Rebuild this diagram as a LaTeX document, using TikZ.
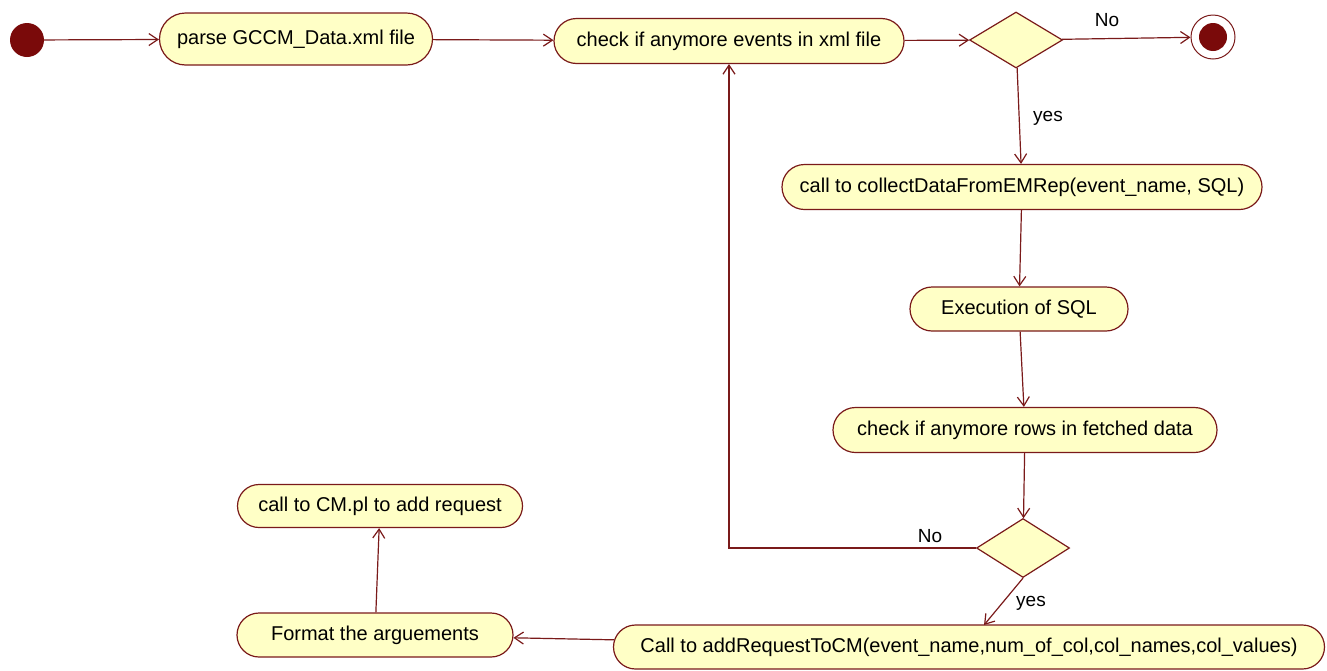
\documentclass[tikz,border=0pt]{standalone}
\usepackage{fontspec}
\setmainfont{Liberation Sans}
\usetikzlibrary{arrows.meta}
\usetikzlibrary{positioning,shapes.misc,shapes.geometric}
\definecolor{umlred}{HTML}{7A1A1A}
\definecolor{umlfill}{HTML}{FFFFC6}
\definecolor{umldot}{HTML}{7A0A0A}
\begin{document}
\begin{tikzpicture}[x=1pt,y=-1pt,
		act/.style={rounded rectangle, draw=umlred, fill=umlfill, line width=1.2pt, inner sep=0pt, font=\fontsize{20}{22}\selectfont},
		dec/.style={diamond, draw=umlred, fill=umlfill, line width=1.2pt, inner sep=0pt, aspect=1.6},
		flow/.style={draw=umlred, line width=1.2pt, -{Straight Barb[length=9pt,width=12pt]}},
		lbl/.style={font=\fontsize{19}{21}\selectfont, inner sep=1pt}]
			\useasboundingbox (0,0) rectangle (1327,670);
			% start and end
			\node[circle, fill=umldot, minimum size=34pt, inner sep=0pt] (start) at (27,40) {};
			\node[circle, draw=umlred, fill=white, line width=1pt, minimum size=44pt, inner sep=0pt] (stop) at (1213,37) {};
			\node[circle, fill=umldot, minimum size=28pt, inner sep=0pt] at (stop) {};
			% activities
			\node[act, minimum width=273pt, minimum height=52pt] (parse) at (296,39) {parse GCCM\_Data.xml file};
			\node[act, minimum width=350pt, minimum height=45pt] (chkEv) at (729,41) {check if anymore events in xml file};
			\node[act, minimum width=480pt, minimum height=45pt] (collect) at (1022,187) {call to collectDataFromEMRep(event\_name, SQL)};
			\node[act, minimum width=218pt, minimum height=44pt] (exec) at (1019,309) {Execution of SQL};
			\node[act, minimum width=384pt, minimum height=45pt] (chkRow) at (1025,430) {check if anymore rows in fetched data};
			\node[act, minimum width=711pt, minimum height=44pt] (addReq) at (969,647) {Call to addRequestToCM(event\_name,num\_of\_col,col\_names,col\_values)};
			\node[act, minimum width=276pt, minimum height=44pt] (fmt) at (375,635) {Format the arguements};
			\node[act, minimum width=285pt, minimum height=43pt] (cmpl) at (380,506) {call to CM.pl to add request};
			% decisions
			\node[dec, minimum width=93pt, minimum height=56pt] (dec1) at (1016,40) {};
			\node[dec, minimum width=93pt, minimum height=59pt] (dec2) at (1023,548) {};
			\coordinate (yesEnd) at (984,625);
			% flows
			\path[flow] (start) -- (parse);
			\path[flow] (parse) -- (chkEv);
			\path[flow] (chkEv) -- (dec1);
			\path[flow] (dec1) -- (stop);
			\path[flow] (dec1) -- (collect);
			\path[flow] (collect) -- (exec);
			\path[flow] (exec) -- (chkRow);
			\path[flow] (chkRow) -- (dec2);
			\path[flow] (dec2.west) -| (chkEv.south);
			\path[flow] (dec2.south) -- (yesEnd);
			\path[flow] (addReq) -- (fmt);
			\path[flow] (fmt) -- (cmpl);
			% guards
			\node[lbl] (no1) at (1107,20) {No};
			\node[lbl] (yes1) at (1048,118) {yes};
			\node[lbl] (no2) at (930,536) {No};
			\node[lbl] (yes2) at (1031,603) {yes};
		\end{tikzpicture}
\end{document}
